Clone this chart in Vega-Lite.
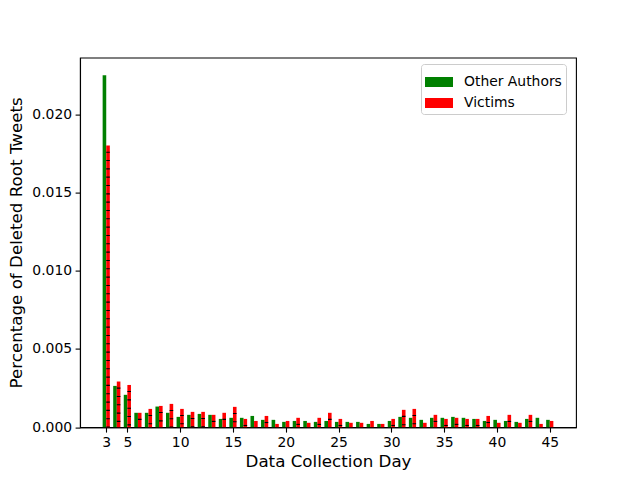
{
  "$schema": "https://vega.github.io/schema/vega-lite/v6.json",
  "autosize": {"type": "none"},
  "width": 496,
  "height": 369.6,
  "padding": {"left": 80, "top": 57.6, "right": 64, "bottom": 52.8},
  "background": "white",
  "config": {
    "font": "DejaVu Sans",
    "view": {"stroke": "black", "strokeWidth": 1.1},
    "axis": {
      "grid": false,
      "domainColor": "black",
      "domainWidth": 1.1,
      "tickColor": "black",
      "tickWidth": 1.1,
      "tickSize": 4.9,
      "labelColor": "black",
      "labelFont": "DejaVu Sans",
      "labelFontSize": 13.9,
      "labelPadding": 3.5,
      "titleFont": "DejaVu Sans",
      "titleFontSize": 16.7,
      "titleFontWeight": "normal",
      "titleColor": "black"
    },
    "legend": {
      "labelFont": "DejaVu Sans",
      "labelFontSize": 13.9,
      "labelColor": "black"
    }
  },
  "data": {
    "values": [
      {"day": 3, "series": "Other Authors", "value": 0.0225},
      {"day": 3, "series": "Victims", "value": 0.0180},
      {"day": 4, "series": "Other Authors", "value": 0.00264},
      {"day": 4, "series": "Victims", "value": 0.00292},
      {"day": 5, "series": "Other Authors", "value": 0.00207},
      {"day": 5, "series": "Victims", "value": 0.00270},
      {"day": 6, "series": "Other Authors", "value": 0.00092},
      {"day": 6, "series": "Victims", "value": 0.00092},
      {"day": 7, "series": "Other Authors", "value": 0.00092},
      {"day": 7, "series": "Victims", "value": 0.00117},
      {"day": 8, "series": "Other Authors", "value": 0.00132},
      {"day": 8, "series": "Victims", "value": 0.00136},
      {"day": 9, "series": "Other Authors", "value": 0.00092},
      {"day": 9, "series": "Victims", "value": 0.00149},
      {"day": 10, "series": "Other Authors", "value": 0.00066},
      {"day": 10, "series": "Victims", "value": 0.00117},
      {"day": 11, "series": "Other Authors", "value": 0.00079},
      {"day": 11, "series": "Victims", "value": 0.00098},
      {"day": 12, "series": "Other Authors", "value": 0.00085},
      {"day": 12, "series": "Victims", "value": 0.00098},
      {"day": 13, "series": "Other Authors", "value": 0.00079},
      {"day": 13, "series": "Victims", "value": 0.00079},
      {"day": 14, "series": "Other Authors", "value": 0.00053},
      {"day": 14, "series": "Victims", "value": 0.00092},
      {"day": 15, "series": "Other Authors", "value": 0.00060},
      {"day": 15, "series": "Victims", "value": 0.00130},
      {"day": 16, "series": "Other Authors", "value": 0.00060},
      {"day": 16, "series": "Victims", "value": 0.00053},
      {"day": 17, "series": "Other Authors", "value": 0.00072},
      {"day": 17, "series": "Victims", "value": 0.00040},
      {"day": 18, "series": "Other Authors", "value": 0.00047},
      {"day": 18, "series": "Victims", "value": 0.00072},
      {"day": 19, "series": "Other Authors", "value": 0.00047},
      {"day": 19, "series": "Victims", "value": 0.00021},
      {"day": 20, "series": "Other Authors", "value": 0.00034},
      {"day": 20, "series": "Victims", "value": 0.00040},
      {"day": 21, "series": "Other Authors", "value": 0.00040},
      {"day": 21, "series": "Victims", "value": 0.00060},
      {"day": 22, "series": "Other Authors", "value": 0.00040},
      {"day": 22, "series": "Victims", "value": 0.00028},
      {"day": 23, "series": "Other Authors", "value": 0.00034},
      {"day": 23, "series": "Victims", "value": 0.00060},
      {"day": 24, "series": "Other Authors", "value": 0.00040},
      {"day": 24, "series": "Victims", "value": 0.00092},
      {"day": 25, "series": "Other Authors", "value": 0.00034},
      {"day": 25, "series": "Victims", "value": 0.00053},
      {"day": 26, "series": "Other Authors", "value": 0.00034},
      {"day": 26, "series": "Victims", "value": 0.00028},
      {"day": 27, "series": "Other Authors", "value": 0.00034},
      {"day": 27, "series": "Victims", "value": 0.00028},
      {"day": 28, "series": "Other Authors", "value": 0.00021},
      {"day": 28, "series": "Victims", "value": 0.00040},
      {"day": 29, "series": "Other Authors", "value": 0.00021},
      {"day": 29, "series": "Victims", "value": 0.00021},
      {"day": 30, "series": "Other Authors", "value": 0.00040},
      {"day": 30, "series": "Victims", "value": 0.00053},
      {"day": 31, "series": "Other Authors", "value": 0.00066},
      {"day": 31, "series": "Victims", "value": 0.00111},
      {"day": 32, "series": "Other Authors", "value": 0.00060},
      {"day": 32, "series": "Victims", "value": 0.00117},
      {"day": 33, "series": "Other Authors", "value": 0.00047},
      {"day": 33, "series": "Victims", "value": 0.00028},
      {"day": 34, "series": "Other Authors", "value": 0.00060},
      {"day": 34, "series": "Victims", "value": 0.00079},
      {"day": 35, "series": "Other Authors", "value": 0.00060},
      {"day": 35, "series": "Victims", "value": 0.00053},
      {"day": 36, "series": "Other Authors", "value": 0.00066},
      {"day": 36, "series": "Victims", "value": 0.00060},
      {"day": 37, "series": "Other Authors", "value": 0.00060},
      {"day": 37, "series": "Victims", "value": 0.00053},
      {"day": 38, "series": "Other Authors", "value": 0.00053},
      {"day": 38, "series": "Victims", "value": 0.00053},
      {"day": 39, "series": "Other Authors", "value": 0.00040},
      {"day": 39, "series": "Victims", "value": 0.00072},
      {"day": 40, "series": "Other Authors", "value": 0.00047},
      {"day": 40, "series": "Victims", "value": 0.00028},
      {"day": 41, "series": "Other Authors", "value": 0.00040},
      {"day": 41, "series": "Victims", "value": 0.00079},
      {"day": 42, "series": "Other Authors", "value": 0.00034},
      {"day": 42, "series": "Victims", "value": 0.00028},
      {"day": 43, "series": "Other Authors", "value": 0.00053},
      {"day": 43, "series": "Victims", "value": 0.00079},
      {"day": 44, "series": "Other Authors", "value": 0.00060},
      {"day": 44, "series": "Victims", "value": 0.00021},
      {"day": 45, "series": "Other Authors", "value": 0.00047},
      {"day": 45, "series": "Victims", "value": 0.00040}
    ]
  },
  "encoding": {
    "x": {
      "field": "day",
      "type": "quantitative",
      "scale": {"domain": [0.515, 47.485], "nice": false, "zero": false, "padding": 0},
      "axis": {"values": [3, 5, 10, 15, 20, 25, 30, 35, 40, 45], "title": "Data Collection Day", "titlePadding": 4}
    },
    "y": {
      "field": "value",
      "type": "quantitative",
      "scale": {"domain": [0, 0.023625], "nice": false, "padding": 0},
      "axis": {"values": [0, 0.005, 0.01, 0.015, 0.02], "format": ".3f", "title": "Percentage of Deleted Root Tweets", "titlePadding": 6}
    }
  },
  "layer": [
    {
      "transform": [{"filter": "datum.series == 'Other Authors'"}],
      "mark": {"type": "bar", "width": 3.6, "xOffset": -1.8},
      "encoding": {
        "color": {
          "field": "series",
          "type": "nominal",
          "scale": {"domain": ["Other Authors", "Victims"], "range": ["#008000", "#ff0000"]},
          "legend": {
            "title": null,
            "orient": "none",
            "legendX": 341,
            "legendY": 6.4,
            "padding": 4,
            "fillColor": "white",
            "strokeColor": "#cccccc",
            "cornerRadius": 3,
            "symbolType": "M-1,-0.357L1,-0.357L1,0.357L-1,0.357Z",
            "symbolSize": 784,
            "symbolStrokeWidth": 0,
            "symbolOpacity": 1,
            "labelOffset": 11,
            "rowPadding": 0
          }
        }
      }
    },
    {
      "transform": [{"filter": "datum.series == 'Victims'"}],
      "mark": {"type": "bar", "width": 3.6, "xOffset": 1.8},
      "encoding": {
        "color": {"field": "series", "type": "nominal"}
      }
    },
    {
      "transform": [{"filter": "datum.series == 'Victims'"}],
      "mark": {"type": "rule", "color": "black", "strokeWidth": 3.6, "xOffset": 1.8, "strokeDash": [1.1, 7.23], "strokeDashOffset": 2.3, "strokeCap": "butt"},
      "encoding": {
        "y2": {"datum": 0}
      }
    }
  ]
}
